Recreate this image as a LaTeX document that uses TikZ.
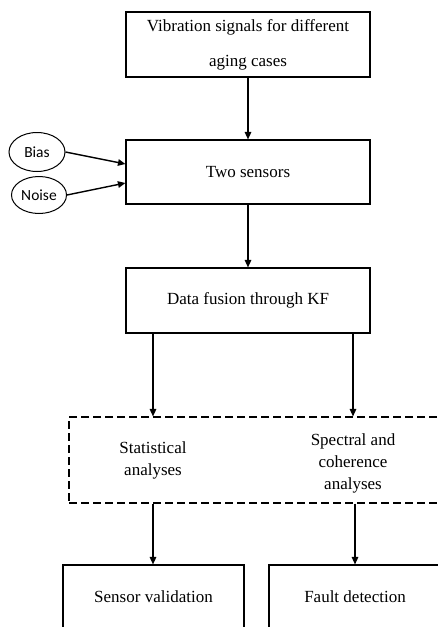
\documentclass[tikz,border=0pt]{standalone}
\usepackage{fontspec}
\setmainfont{Liberation Serif}
\newfontfamily\labelfont{Carlito}
\usetikzlibrary{arrows.meta,shapes.geometric}
\tikzset{stagebox/.style={draw,line width=1.1pt,inner sep=0pt,align=center,font=\fontsize{17}{22}\selectfont},
sourceoval/.style={draw,ellipse,line width=1pt,inner sep=0pt,font=\labelfont\fontsize{15.5}{17}\selectfont},
flow/.style={line width=1.4pt,-{Triangle[length=7.5pt,width=6.5pt]}}}
\begin{document}
\begin{tikzpicture}[x=1pt,y=-1pt]
\path[use as bounding box] (0,0) rectangle (438,627);
\clip (0,0) rectangle (438,627);
\node[stagebox,minimum width=244pt,minimum height=65pt,font=\fontsize{17}{35}\selectfont] (vib) at (248,44.5) {Vibration signals for different\\aging cases};
\node[stagebox,minimum width=244pt,minimum height=64pt] (sensors) at (248,172) {Two sensors};
\node[stagebox,minimum width=244pt,minimum height=65pt] (fusion) at (248,300.5) {Data fusion through KF};
\node[sourceoval,minimum width=56pt,minimum height=39pt] (bias) at (37,152) {Bias};
\node[sourceoval,minimum width=55pt,minimum height=37pt] (noise) at (39,195) {Noise};
\node[stagebox,dashed,dash pattern=on 8pt off 4pt,minimum width=381pt,minimum height=86pt] (analysis) at (259.5,460) {};
\node[inner sep=0pt,align=center,font=\fontsize{17}{22}\selectfont] (stat) at (153,460) {Statistical\\analyses};
\node[inner sep=0pt,align=center,font=\fontsize{17}{22}\selectfont] (spec) at (353,463) {Spectral and\\coherence\\analyses};
\node[stagebox,minimum width=181pt,minimum height=63pt] (valid) at (153.5,596.5) {Sensor validation};
\node[stagebox,minimum width=172pt,minimum height=63pt] (fault) at (355,596.5) {Fault detection};
\draw[flow] (vib) -- (sensors);
\draw[flow] (bias.east) -- ([yshift=8pt]sensors.west);
\draw[flow] (noise.east) -- ([yshift=-11pt]sensors.west);
\draw[flow] (sensors) -- (fusion);
\draw[flow] (stat |- fusion.south) -- (stat |- analysis.north);
\draw[flow] (spec |- fusion.south) -- (spec |- analysis.north);
\draw[flow] (stat |- analysis.south) -- (stat |- valid.north);
\draw[flow] (fault |- analysis.south) -- (fault.north);
\end{tikzpicture}
\end{document}
